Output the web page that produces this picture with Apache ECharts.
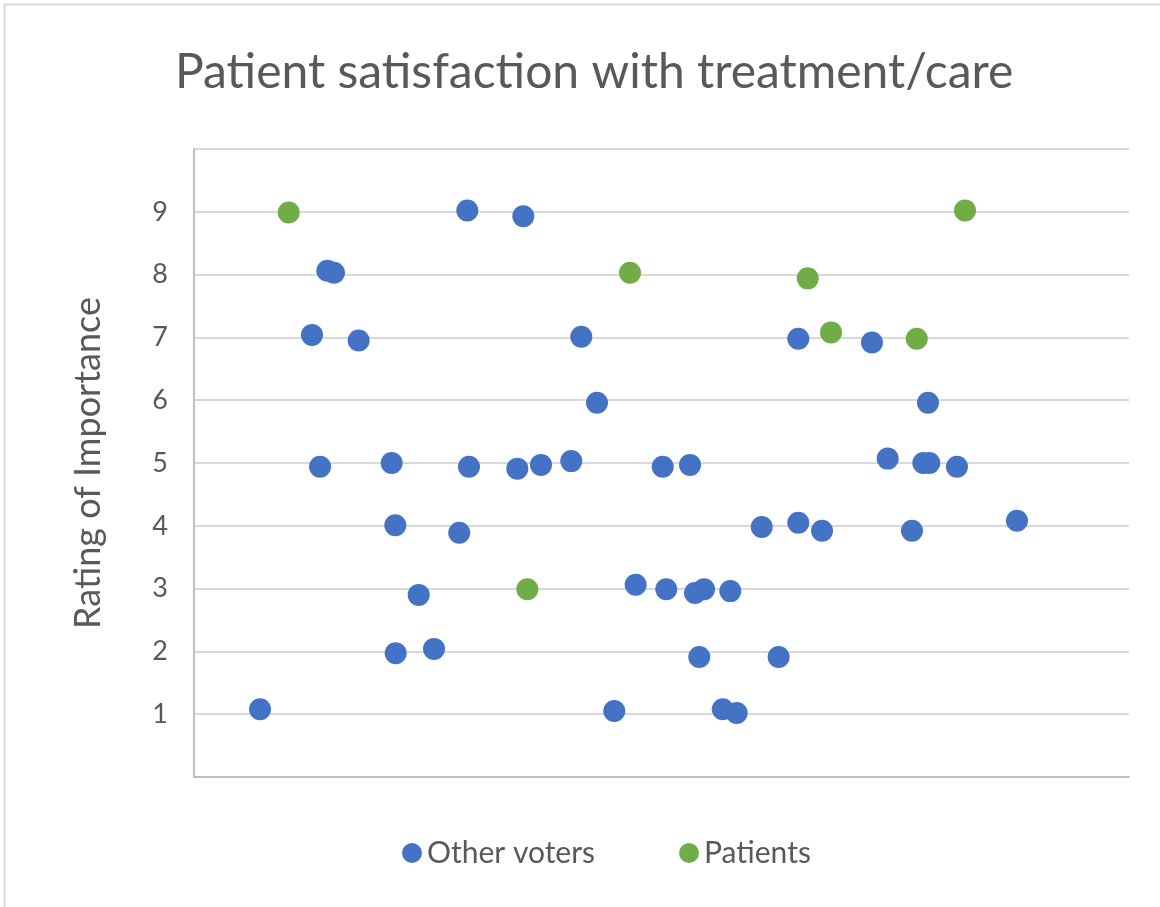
<!DOCTYPE html>
<html>
<head>
<meta charset="utf-8">
<title>Patient satisfaction with treatment/care</title>
<script src="https://cdn.jsdelivr.net/npm/echarts@6/dist/echarts.min.js"></script>
<style>
  html, body { margin: 0; padding: 0; background: #fff; }
  #chart { width: 1160px; height: 907px; }
</style>
</head>
<body>
<div id="chart"></div>
<script>
// jittered x position (0-100) and rating for each voter
const otherX = [7.06, 12.62, 13.48, 14.26, 14.97, 17.61, 21.14, 21.53, 21.57, 24.03,
  25.67, 28.37, 29.23, 29.41, 34.58, 35.22, 37.11, 40.35, 41.42, 43.10,
  44.95, 47.24, 50.13, 50.51, 53.05, 53.58, 54.04, 54.55, 56.55, 57.36,
  58.04, 60.72, 62.53, 64.63, 64.63, 67.17, 72.51, 74.19, 76.79, 78.00,
  78.64, 78.50, 81.60, 88.02]
const otherY = [1.08, 7.04, 4.94, 8.06, 8.03, 6.95, 5.00, 4.01, 1.97, 2.90,
  2.04, 3.89, 9.02, 4.94, 4.91, 8.93, 4.97, 5.03, 7.01, 5.96,
  1.05, 3.06, 4.94, 2.99, 4.97, 2.93, 1.91, 2.99, 1.08, 2.96,
  1.02, 3.98, 1.91, 6.98, 4.05, 3.92, 6.92, 5.07, 3.92, 5.00,
  5.00, 5.96, 4.94, 4.08]

const patientX = [10.13, 35.65, 46.63, 65.64, 68.13, 77.30, 82.46]
const patientY = [8.99, 2.99, 8.03, 7.94, 7.08, 6.98, 9.02]

const yTicks = ['1', '2', '3', '4', '5', '6', '7', '8', '9']

const pairs = (xs, ys) => xs.map((x, i) => [x, ys[i]])

const chart = echarts.init(document.getElementById('chart'))

chart.setOption({
  backgroundColor: '#fff',
  textStyle: { fontFamily: 'Lato' },
  graphic: [{
    type: 'rect',
    shape: { x: 4.5, y: 4.5, width: 1300, height: 1100 },
    style: { fill: 'none', stroke: '#d9d9d9', lineWidth: 2 },
    silent: true
  }],
  title: {
    text: 'Patient satisfaction with treatment/care',
    left: 170,
    top: 44,
    textStyle: { fontFamily: 'Lato', fontSize: 48, fontWeight: 'normal', color: '#595959' }
  },
  legend: {
    bottom: 34,
    left: 397,
    itemWidth: 20,
    itemHeight: 20,
    itemGap: 84,
    icon: 'circle',
    textStyle: { fontFamily: 'Lato', fontSize: 30, color: '#595959' },
    data: ['Other voters', 'Patients']
  },
  grid: { left: 194, right: 31, top: 149, bottom: 130 },
  xAxis: {
    type: 'value',
    min: 0,
    max: 100,
    axisLine: { show: true, lineStyle: { color: '#bfbfbf', width: 2 } },
    axisTick: { show: false },
    axisLabel: { show: false },
    splitLine: { show: false }
  },
  yAxis: {
    type: 'value',
    name: 'Rating of Importance',
    nameLocation: 'middle',
    nameGap: 88,
    nameTextStyle: { fontFamily: 'Lato', fontSize: 36, color: '#595959' },
    min: 0,
    max: 10,
    interval: 1,
    axisLine: { show: true, lineStyle: { color: '#bfbfbf', width: 2 } },
    axisTick: { show: false },
    axisLabel: {
      margin: 26,
      fontFamily: 'Lato',
      fontSize: 27,
      color: '#595959',
      formatter: v => yTicks.includes(String(v)) ? String(v) : ''
    },
    splitLine: { lineStyle: { color: '#d9d9d9', width: 2 } }
  },
  series: [
    {
      name: 'Other voters',
      type: 'scatter',
      symbolSize: 22,
      itemStyle: { color: '#4472C4', opacity: 1 },
      data: pairs(otherX, otherY)
    },
    {
      name: 'Patients',
      type: 'scatter',
      symbolSize: 22,
      itemStyle: { color: '#70AD47', opacity: 1 },
      data: pairs(patientX, patientY)
    }
  ]
})
</script>
</body>
</html>
